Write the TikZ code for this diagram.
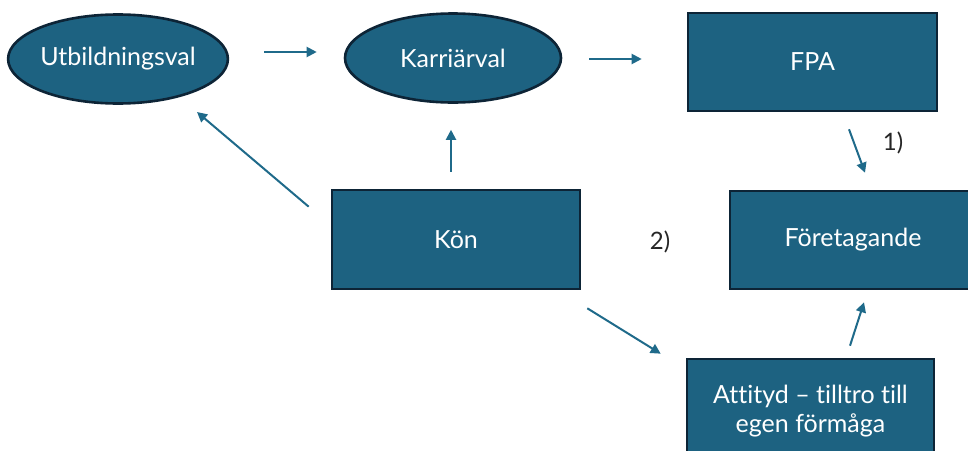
\documentclass[tikz,border=0pt]{standalone}
\usepackage{fontspec}
\setmainfont{Lato}[Ligatures=NoCommon]
\usetikzlibrary{shapes.geometric,arrows.meta}
\definecolor{boxfill}{HTML}{1D6281}
\definecolor{boxline}{HTML}{0D2436}
\definecolor{arrcol}{HTML}{1F6A8A}
\definecolor{lblcol}{HTML}{262626}
\tikzset{
  base/.style={fill=boxfill, draw=boxline, line width=2.6pt, text=white,
    font=\fontsize{25}{28.5}\selectfont, inner sep=0pt, align=center},
  oval/.style={base, ellipse, minimum width=216pt, minimum height=89pt},
  rbox/.style={base, rectangle},
  arr/.style={draw=arrcol, line width=2pt, -{Triangle[length=10pt,width=10pt]}},
  lbl/.style={text=lblcol, font=\fontsize{24}{26}\selectfont, inner sep=0pt}
}
\begin{document}
\begin{tikzpicture}[x=1pt,y=-1pt]
\useasboundingbox (0,0) rectangle (968,450);
\clip (0,0) rectangle (968,450);
\node[oval] (utb) at (118,59) {Utbildningsval};
\node[oval] (karr) at (453,58) {Karriärval};
\node[rbox, minimum width=249pt, minimum height=98pt] (fpa) at (812.5,62) {FPA};
\node[rbox, minimum width=248pt, minimum height=99pt] (kon) at (456,239.5) {Kön};
\node[rbox, minimum width=246pt, minimum height=98pt] (for) at (853,240) {Företagande};
\node[rbox, minimum width=247pt, minimum height=104pt] (att) at (810.5,411) {Attityd – tilltro till\\egen förmåga};
\node[lbl] (l1) at (893,143) {1)};
\node[lbl] (l2) at (660,242) {2)};
\draw[arr] ([shift={(35,-7)}]utb.east) -- ([shift={(-27,-6)}]karr.west);
\draw[arr] ([shift={(27,1)}]karr.east) -- ([shift={(-45,-3)}]fpa.west);
\draw[arr] ([shift={(36.5,17)}]fpa.south) -- ([shift={(12,-17)}]for.north);
\draw[arr] ([shift={(-22,18)}]kon.north west) -- ([shift={(79,53)}]utb.center);
\draw[arr] ([shift={(-5,-17)}]kon.north) -- ([shift={(-2,26)}]karr.south);
\draw[arr] ([shift={(6,18)}]kon.south east) -- ([shift={(-25,-4)}]att.north west);
\draw[arr] ([shift={(39.5,-12)}]att.north) -- ([shift={(11,12)}]for.south);
\end{tikzpicture}
\end{document}
